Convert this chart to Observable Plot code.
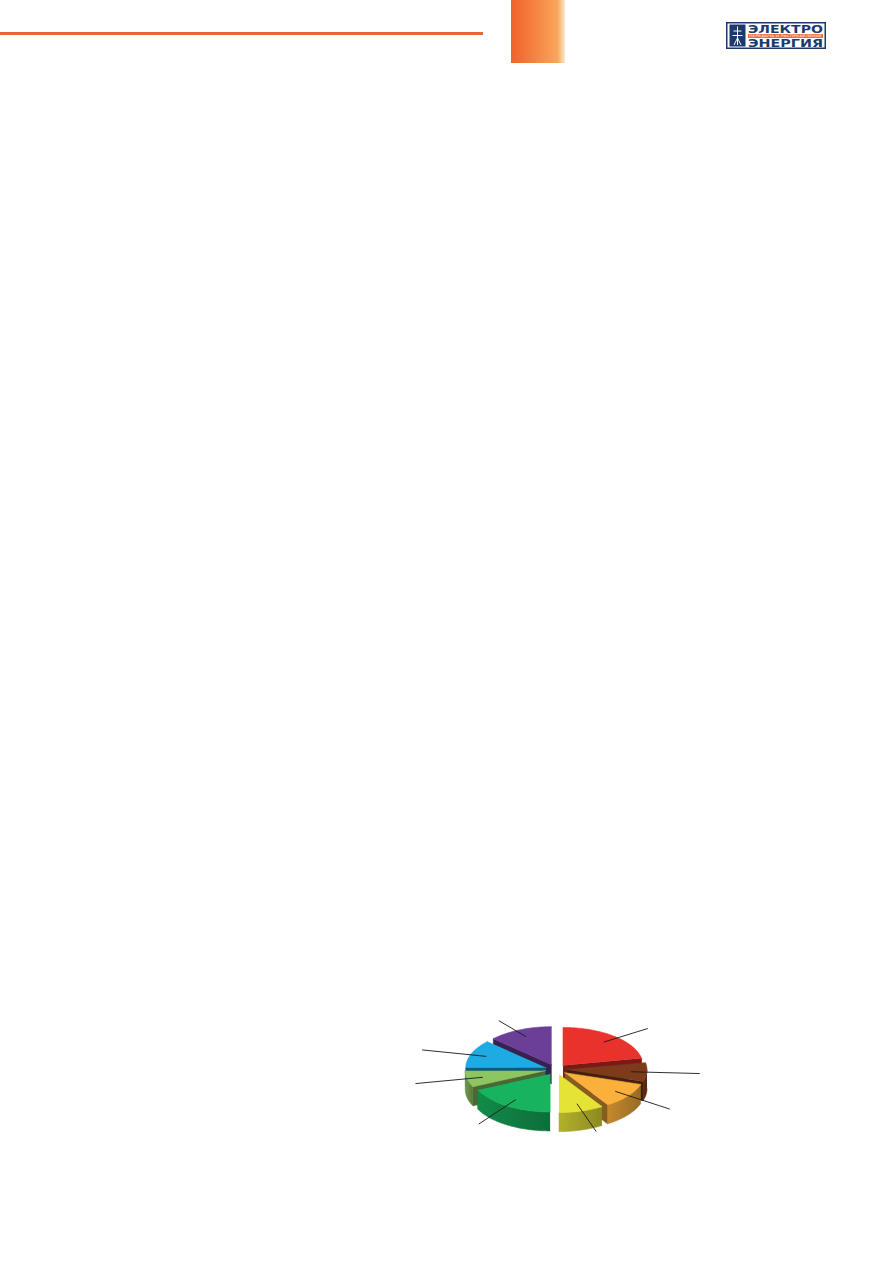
<!DOCTYPE html>
<html>
<head>
<meta charset="utf-8">
<script src="https://cdn.jsdelivr.net/npm/d3@7"></script>
<script src="https://cdn.jsdelivr.net/npm/@observablehq/plot@0.6"></script>
<style>
html, body { margin: 0; padding: 0; background: #fff; }
#page { position: relative; width: 893px; height: 1263px; overflow: hidden; background: #fff; font-family: "DejaVu Sans", sans-serif; }
.rule { position: absolute; left: 0; top: 32px; width: 483px; height: 3px; background: #e2653b; }
.tab { position: absolute; left: 511px; top: 0; width: 54px; height: 63px;
  background: linear-gradient(to right, #f1622a 0%, #f4803f 40%, #f9a65c 86%, #f5bb78 90%, #fde6cc 100%); }
#logo { position: absolute; left: 726px; top: 22px; }
#chart { position: absolute; left: 405px; top: 1000px; }
</style>
</head>
<body>
<div id="page">
  <div class="rule"></div>
  <div class="tab"></div>
  <svg id="logo" width="100" height="27" viewBox="0 0 100 27">
    <rect x="0.75" y="0.75" width="98.5" height="25.5" fill="#fff" stroke="#1b3a6b" stroke-width="1.5"/>
    <rect x="3.5" y="2.5" width="16" height="22" fill="#1b3a6b"/>
    <path d="M11.5 4.5 L11.5 23 M7.5 9 L15.5 9 M6.5 13.5 L16.5 13.5 M8 23 L11.5 16 L15 23" stroke="#fff" stroke-width="1" fill="none"/>
    <text x="22" y="11" font-size="11" font-weight="bold" fill="#1b3a6b" textLength="75" lengthAdjust="spacingAndGlyphs">ЭЛЕКТРО</text>
    <rect x="22" y="12" width="75" height="4" fill="#ef6a3a"/>
    <text x="23" y="15.2" font-size="3.2" fill="#fff" textLength="73" lengthAdjust="spacingAndGlyphs">ПЕРЕДАЧА И РАСПРЕДЕЛЕНИЕ</text>
    <text x="22" y="25" font-size="11" font-weight="bold" fill="#1b3a6b" textLength="75" lengthAdjust="spacingAndGlyphs">ЭНЕРГИЯ</text>
  </svg>
  <svg width="0" height="0" style="position:absolute" id="defs"><defs id="grads"></defs></svg>
  <div id="chart"></div>
</div>
<script>
// ---- data ----
const categories = ["Сегмент 1", "Сегмент 2", "Сегмент 3", "Сегмент 4", "Сегмент 5", "Сегмент 6", "Сегмент 7", "Сегмент 8"];
const values = [22, 8, 11, 9, 18, 7, 12, 13];

// ---- style ----
const palette = ["#e8322b", "#7e3b1c", "#fbb03b", "#e6e337", "#17b35e", "#8dc661", "#1eaae2", "#6b3e98"];

// ---- geometry (layout) ----
const cx = 555.5, cy = 1069, rx = 80, ry = 38, depth = 19, explode = 11;
const tilt = ry / rx;

const arcs = d3.pie().sort(null).value(d => d)(values);

// gradients for outer walls
const defs = d3.select("#grads");
palette.forEach((c, i) => {
  const g = defs.append("linearGradient").attr("id", "wall" + i).attr("x1", 0).attr("x2", 1).attr("y1", 0).attr("y2", 0);
  g.append("stop").attr("offset", "0%").attr("stop-color", d3.color(c).darker(0.7).formatHex());
  g.append("stop").attr("offset", "100%").attr("stop-color", d3.color(c).darker(1.4).formatHex());
});

function slice(a, i) {
  const mid = (a.startAngle + a.endAngle) / 2;
  const ox = explode * Math.sin(mid), oy = -explode * tilt * Math.cos(mid);
  const P = (ang, r, dz = 0) => ({x: cx + ox + r * rx * Math.sin(ang), y: cy + oy - r * ry * Math.cos(ang) + dz});
  const arcPts = (a0, a1, dz = 0) => {
    const n = Math.max(2, Math.ceil((a1 - a0) / (Math.PI / 180)));
    return d3.range(n + 1).map(k => P(a0 + (a1 - a0) * k / n, 1, dz));
  };
  const apex = P(0, 0), apexD = P(0, 0, depth);
  const polys = [];
  const faceCol = d3.color(palette[i]).darker(1.8).formatHex();
  if (Math.sin(a.startAngle) < -1e-6) {
    polys.push({pts: [apex, P(a.startAngle, 1), P(a.startAngle, 1, depth), apexD], fill: faceCol});
  }
  if (Math.sin(a.endAngle) > 1e-6) {
    polys.push({pts: [apex, P(a.endAngle, 1), P(a.endAngle, 1, depth), apexD], fill: faceCol});
  }
  const w0 = Math.max(a.startAngle, Math.PI / 2), w1 = Math.min(a.endAngle, 3 * Math.PI / 2);
  if (w1 > w0) {
    const top = arcPts(w0, w1), bot = arcPts(w0, w1, depth).reverse();
    polys.push({pts: top.concat(bot), fill: `url(#wall${i})`, stroke: d3.color(palette[i]).darker(1.0).formatHex()});
  }
  polys.push({pts: [apex].concat(arcPts(a.startAngle, a.endAngle)), fill: palette[i]});
  const inner = P(mid, 0.8);
  const c = Math.cos(mid);
  const outer = {x: cx + 1.8 * rx * Math.sin(mid), y: cy - (c > 0 ? 1.4 : 1.7) * ry * c};
  return {i, mid, polys, leader: {x1: inner.x, y1: inner.y, x2: outer.x, y2: outer.y, name: categories[i], value: values[i]}};
}

const slices = arcs.map((a, i) => slice(a, i));
const order = slices.slice().sort((s, t) => Math.cos(t.mid) - Math.cos(s.mid));

const marks = [];
order.forEach(s => {
  s.polys.forEach(p => {
    marks.push(Plot.line(p.pts, {x: "x", y: "y", fill: p.fill, stroke: p.stroke || p.fill, strokeWidth: 0.6, strokeLinejoin: "round"}));
  });
});
marks.push(Plot.link(slices.map(s => s.leader), {x1: "x1", y1: "y1", x2: "x2", y2: "y2", stroke: "#1a1a1a", strokeWidth: 0.9, title: d => `${d.name}: ${d.value}%`}));

const chart = Plot.plot({
  width: 300,
  height: 160,
  margin: 0,
  x: {domain: [405, 705], axis: null},
  y: {domain: [1000, 1160], reverse: true, axis: null},
  marks
});
document.getElementById("chart").appendChild(chart);
</script>
</body>
</html>
